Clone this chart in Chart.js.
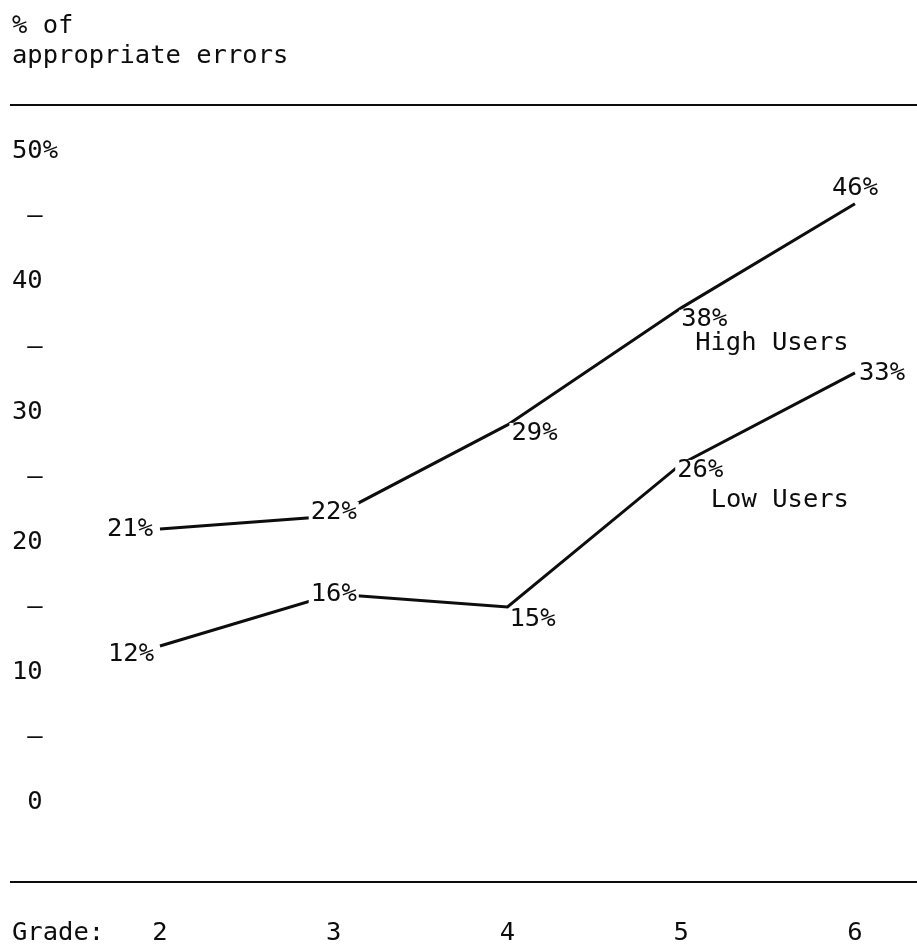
<!DOCTYPE html>
<html>
<head>
<meta charset="utf-8">
<title>% of appropriate errors by grade</title>
<script src="https://cdn.jsdelivr.net/npm/chart.js@4.4.1/dist/chart.umd.min.js"></script>
<style>
  html, body { margin: 0; padding: 0; background: #fff; }
  #wrap { position: relative; width: 917px; height: 947px; }
</style>
</head>
<body>
<div id="wrap"><canvas id="errorsChart"></canvas></div>
<script>
const grades = [2, 3, 4, 5, 6];
const highUsers = [21, 22, 29, 38, 46];
const lowUsers = [12, 16, 15, 26, 33];
const yTickValues = [0, 5, 10, 15, 20, 25, 30, 35, 40, 45, 50];

const FONT = "'DejaVu Sans Mono', 'Liberation Mono', monospace";
const FONT_SIZE = 25.5;
const INK = '#0d0d0d';

// where each value label sits relative to its point: [dx, dy, align]
const highLabelPos = [[-7, 0, 'right'], [0, -4, 'center'], [4, 8, 'left'], [0, 12, 'left'], [0, -15, 'center']];
const lowLabelPos = [[-6, 8, 'right'], [0, 0, 'center'], [2, 12, 'left'], [-4, 6, 'left'], [4, 0, 'left']];

function toPoints(values) {
  return grades.map((g, i) => ({ x: g, y: values[i] }));
}

// rules above and below the plot, heading and "Grade:"
const frame = {
  id: 'frame',
  beforeDatasetsDraw(chart) {
    const { ctx, chartArea, width } = chart;
    ctx.save();
    ctx.strokeStyle = INK;
    ctx.lineWidth = 2;
    [chartArea.top, chartArea.bottom].forEach(y => {
      ctx.beginPath();
      ctx.moveTo(10, y);
      ctx.lineTo(width, y);
      ctx.stroke();
    });
    ctx.fillStyle = INK;
    ctx.font = FONT_SIZE + 'px ' + FONT;
    ctx.textAlign = 'left';
    ctx.textBaseline = 'middle';
    ctx.fillText('% of', 12, 26);
    ctx.fillText('appropriate errors', 12, 56);
    ctx.fillText('Grade:', 12, chartArea.bottom + 51);
    ctx.restore();
  }
};

// percentage next to every point, on a white patch so the line breaks there
const valueLabels = {
  id: 'valueLabels',
  afterDatasetsDraw(chart) {
    const { ctx } = chart;
    ctx.save();
    ctx.font = FONT_SIZE + 'px ' + FONT;
    ctx.textBaseline = 'middle';
    ctx.textAlign = 'left';
    chart.data.datasets.forEach((ds, di) => {
      const meta = chart.getDatasetMeta(di);
      meta.data.forEach((pt, i) => {
        const [dx, dy, align] = ds.labelPos[i];
        const text = ds.data[i].y + '%';
        const w = ctx.measureText(text).width;
        const x = pt.x + dx;
        const left = align === 'right' ? x - w : align === 'center' ? x - w / 2 : x;
        const y = pt.y + dy;
        ctx.fillStyle = '#fff';
        ctx.fillRect(left - 2, y - 10, w + 4, 20);
        ctx.fillStyle = INK;
        ctx.fillText(text, left, y);
      });
    });
    // series names written beside the lines
    const xs = chart.scales.x, ys = chart.scales.y;
    ctx.fillText('High Users', xs.getPixelForValue(5.08), ys.getPixelForValue(35.3));
    ctx.fillText('Low Users', xs.getPixelForValue(5.17), ys.getPixelForValue(23.2));
    ctx.restore();
  }
};

const lineStyle = {
  borderColor: INK,
  borderWidth: 3,
  pointRadius: 0,
  tension: 0,
  fill: false
};

new Chart(document.getElementById('errorsChart'), {
  type: 'line',
  data: {
    datasets: [
      Object.assign({ label: 'High Users', data: toPoints(highUsers), labelPos: highLabelPos }, lineStyle),
      Object.assign({ label: 'Low Users', data: toPoints(lowUsers), labelPos: lowLabelPos }, lineStyle)
    ]
  },
  options: {
    responsive: true,
    maintainAspectRatio: false,
    animation: false,
    layout: { padding: { top: 105, right: 0, bottom: 0, left: 0 } },
    plugins: {
      legend: { display: false },
      tooltip: { enabled: false }
    },
    scales: {
      x: {
        type: 'linear',
        min: 1.4245,
        max: 6.357,
        afterBuildTicks: axis => { axis.ticks = grades.map(v => ({ value: v })); },
        afterFit: axis => { axis.height = 65; },
        grid: { display: false, drawTicks: false },
        border: { display: false },
        ticks: {
          padding: 36,
          color: INK,
          maxRotation: 0,
          font: { family: FONT, size: FONT_SIZE },
          callback: v => String(v)
        }
      },
      y: {
        min: -6.15,
        max: 53.6,
        afterBuildTicks: axis => { axis.ticks = yTickValues.map(v => ({ value: v })); },
        afterFit: axis => { axis.width = 60; },
        grid: { display: false, drawTicks: false },
        border: { display: false },
        ticks: {
          padding: 2,
          color: INK,
          font: { family: FONT, size: FONT_SIZE },
          callback: v => v === 50 ? '50%' : (v % 10 === 0 ? v + ' ' : '\u2013 ')
        }
      }
    }
  },
  plugins: [frame, valueLabels]
});
</script>
</body>
</html>
